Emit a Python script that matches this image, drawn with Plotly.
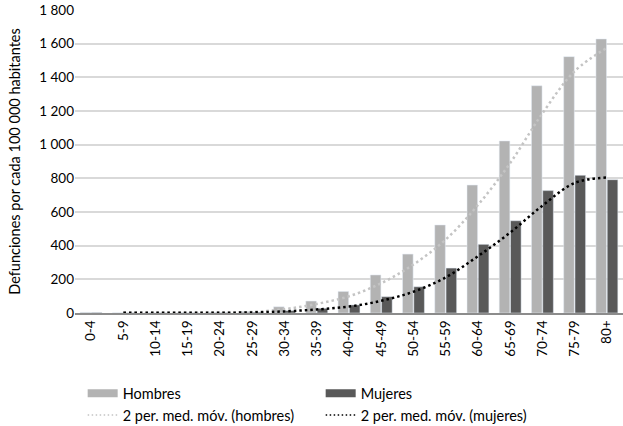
import pandas as pd
import plotly.graph_objects as go

# grupos de edad
grupos = ['0-4', '5-9', '10-14', '15-19', '20-24', '25-29', '30-34', '35-39', '40-44',
          '45-49', '50-54', '55-59', '60-64', '65-69', '70-74', '75-79', '80+']

# defunciones por cada 100 000 habitantes
hombres = [4, 1, 1, 2, 4, 9, 37, 71, 128, 226, 350, 523, 760, 1022, 1350, 1523, 1628]
mujeres = [3, 1, 1, 1, 2, 5, 14, 28, 48, 97, 156, 267, 408, 548, 727, 818, 792]

# media movil de 2 periodos, como la linea de tendencia de excel
mm_hombres = pd.Series(hombres).rolling(2).mean().tolist()
mm_mujeres = pd.Series(mujeres).rolling(2).mean().tolist()

col_h = '#b3b3b3'
col_m = '#595959'
fuente = 'Lato'
punteado = '2.5px,3px'

fig = go.Figure()

fig.add_trace(go.Bar(x=grupos, y=hombres, name='Hombres', marker_color=col_h,
                     showlegend=False))
fig.add_trace(go.Bar(x=grupos, y=mujeres, name='Mujeres', marker_color=col_m,
                     showlegend=False))
fig.add_trace(go.Scatter(x=grupos, y=mm_hombres, mode='lines', showlegend=False,
                         line=dict(color='#c4c4c4', width=2.5, dash=punteado, shape='spline')))
fig.add_trace(go.Scatter(x=grupos, y=mm_mujeres, mode='lines', showlegend=False,
                         line=dict(color='black', width=2.5, dash=punteado, shape='spline')))

# entradas de leyenda (rectangulos anchos como en el original)
leyenda = [('Hombres', col_h, 8, 'solid'),
           ('Mujeres', col_m, 8, 'solid'),
           ('2 per. med. móv. (hombres)', '#c4c4c4', 1.5, '1.5px,2.5px'),
           ('2 per. med. móv. (mujeres)', 'black', 1.5, '1.5px,2.5px')]
for nombre, color, ancho, estilo in leyenda:
    fig.add_trace(go.Scatter(x=[None], y=[None], mode='lines', name=nombre,
                             line=dict(color=color, width=ancho, dash=estilo)))

fig.update_layout(
    width=623, height=426,
    margin=dict(l=75, r=0, t=10, b=113, autoexpand=False),
    plot_bgcolor='white', paper_bgcolor='white',
    font=dict(family=fuente, size=13, color='black'),
    separators=', ',
    barmode='group', bargap=0.3, bargroupgap=0.06,
    legend=dict(orientation='h', x=0.014, xanchor='left', y=-0.212, yanchor='top',
                entrywidth=193, entrywidthmode='pixels', traceorder='normal',
                tracegroupgap=0, font=dict(family=fuente, size=14.5)),
)
fig.update_xaxes(type='category', tickangle=-90, showgrid=False,
                 showline=True, linecolor='#8c8c8c', linewidth=2,
                 ticks='', tickfont=dict(size=13.5))
fig.update_yaxes(range=[0, 1800], dtick=200, tickformat=',d',
                 showgrid=True, gridcolor='#d9d9d9', gridwidth=1.5,
                 zeroline=False, ticks='', ticklen=0,
                 title=dict(text='Defunciones por cada 100 000 habitantes',
                            font=dict(size=14.5), standoff=15),
                 tickfont=dict(size=13.5))

fig.write_html('out.html', config={'displayModeBar': False},
               post_script="document.body.style.margin='0';")
